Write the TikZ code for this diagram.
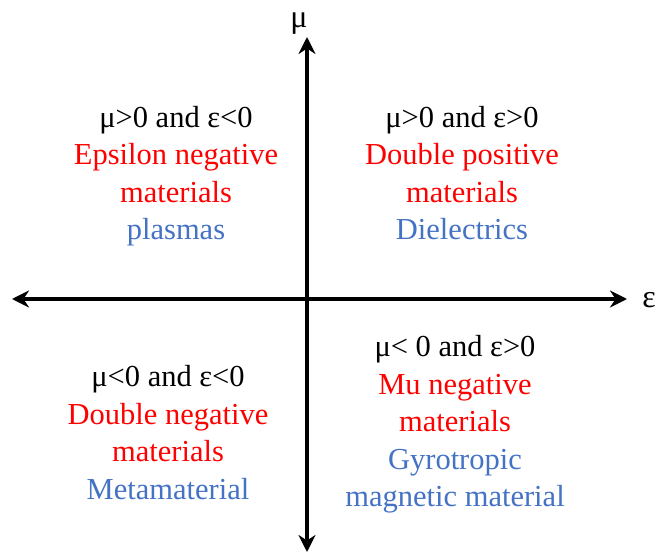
\documentclass[tikz,border=0pt]{standalone}
\usepackage{fontspec}
\setmainfont{Liberation Serif}
\usetikzlibrary{arrows.meta}
\definecolor{myred}{RGB}{255,0,0}
\definecolor{myblue}{RGB}{68,114,196}
\begin{document}
\begin{tikzpicture}[x=1pt,y=-1pt,
  axis/.style={line width=3.8pt,{Stealth[length=17pt,width=17pt]}-{Stealth[length=17pt,width=17pt]}},
  quad/.style={align=center,font=\fontsize{30.5}{37.5}\selectfont,inner sep=0pt},
  lbl/.style={font=\fontsize{32}{36}\selectfont,inner sep=0pt,anchor=base}]
\useasboundingbox (0,0) rectangle (656,553);
\coordinate (L) at (12,299);
\coordinate (R) at (627,299);
\coordinate (T) at (307,37);
\coordinate (B) at (307,552);
\draw[axis] (L) -- (R);
\draw[axis] (B) -- (T);
\node[lbl] (mu) at (299,28) {μ};
\node[lbl] (eps) at (649,308) {ε};
\node[quad] (q2) at (176,176) {μ>0 and ε<0\\\textcolor{myred}{Epsilon negative}\\\textcolor{myred}{materials}\\\textcolor{myblue}{plasmas}};
\node[quad] (q1) at (462,173) {μ>0 and ε>0\\\textcolor{myred}{Double positive}\\\textcolor{myred}{materials}\\\textcolor{myblue}{Dielectrics}};
\node[quad] (q3) at (168,432.5) {μ<0 and ε<0\\\textcolor{myred}{Double negative}\\\textcolor{myred}{materials}\\\textcolor{myblue}{Metamaterial}};
\node[quad] (q4) at (455,424.5) {μ< 0 and ε>0\\\textcolor{myred}{Mu negative}\\\textcolor{myred}{materials}\\\textcolor{myblue}{Gyrotropic}\\\textcolor{myblue}{magnetic material}};
\end{tikzpicture}
\end{document}
